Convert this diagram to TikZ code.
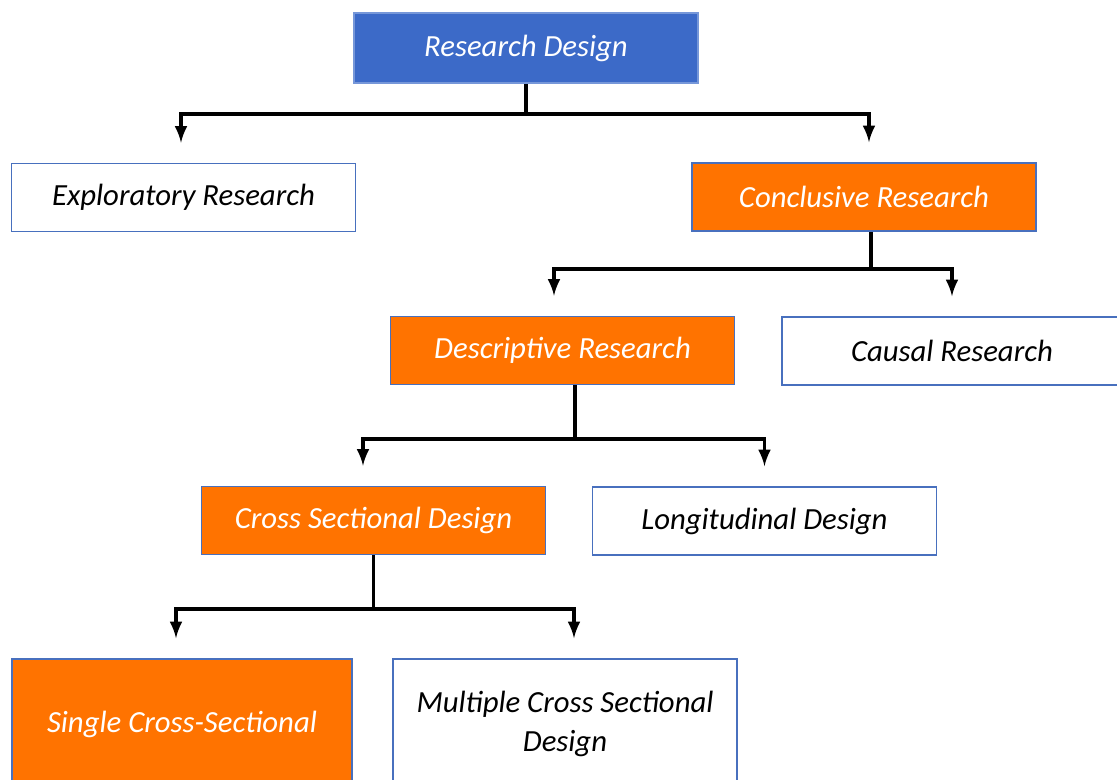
\documentclass[tikz,border=0pt]{standalone}
\usepackage{fontspec}
\setmainfont{Carlito}
\usepackage{xcolor}
\definecolor{designblue}{RGB}{60,106,200}
\definecolor{edgeblue}{RGB}{72,112,190}
\definecolor{pathorange}{RGB}{255,115,0}
\tikzstyle{box}=[draw=edgeblue, line width=0.9pt, minimum width=6.88cm, minimum height=1.36cm, inner sep=2pt, font=\fontsize{17.5}{22}\selectfont\itshape]
\tikzset{chosen/.style={fill=pathorange, text=white}}
\tikzstyle{plain}=[fill=white, text=black]
\tikzstyle{branch}=[-latex, line width=2.2pt, shorten >=0.4cm]

\begin{document}
\begin{tikzpicture}[x=0.02cm, y=-0.02cm]
  \clip (0,0) rectangle (1117,779);
  \fill[white] (0,0) rectangle (1117,779);

  %% top level
  \draw (526,48) node[box, fill=designblue, draw=designblue!70!white, text=white, minimum height=1.4cm] (RD) {Research Design};
  \draw (183.5,197.5) node[box,plain] (ER) {Exploratory Research};
  \draw (864,197) node[box,chosen] (CR) {Conclusive Research};

  %% conclusive
  \draw (562.5,350.5) node[box,chosen] (DR) {Descriptive Research};
  \draw (952,351) node[box,plain,minimum width=6.8cm] (CA) {Causal Research};

  %% descriptive
  \draw (373.5,520.5) node[box,chosen] (CS) {Cross Sectional Design};
  \draw (764.5,521) node[box,plain] (LD) {Longitudinal Design};

  %% cross sectional
  \draw (182,724) node[box,chosen,minimum width=6.8cm,minimum height=2.6cm] (SC) {Single Cross-Sectional};
  \draw (565,724) node[box,plain,minimum height=2.6cm,align=center] (MC) {Multiple Cross Sectional\\Design};

  %% branches
  \draw[line width=2.2pt] (RD.south) -- ++(0,30) coordinate (F1);
  \draw[branch] (F1) -| ([xshift=-0.05cm]ER.north);
  \draw[branch] (F1) -| ([xshift=0.1cm]CR.north);

  \draw[line width=2.2pt] ([xshift=0.14cm]CR.south) -- ++(0,37) coordinate (F2);
  \draw[branch] (F2) -| ([xshift=-0.17cm]DR.north);
  \draw[branch] (F2) -| (CA.north);

  \draw[line width=2.2pt] ([xshift=0.25cm]DR.south) -- ++(0,54) coordinate (F3);
  \draw[branch] (F3) -| ([xshift=-0.21cm]CS.north);
  \draw[branch] (F3) -| (LD.north);

  \draw[line width=2.2pt] (CS.south) -- ++(0,54) coordinate (F4);
  \draw[branch] (F4) -| ([xshift=-0.12cm]SC.north);
  \draw[branch] (F4) -| ([xshift=0.18cm]MC.north);
\end{tikzpicture}
\end{document}
